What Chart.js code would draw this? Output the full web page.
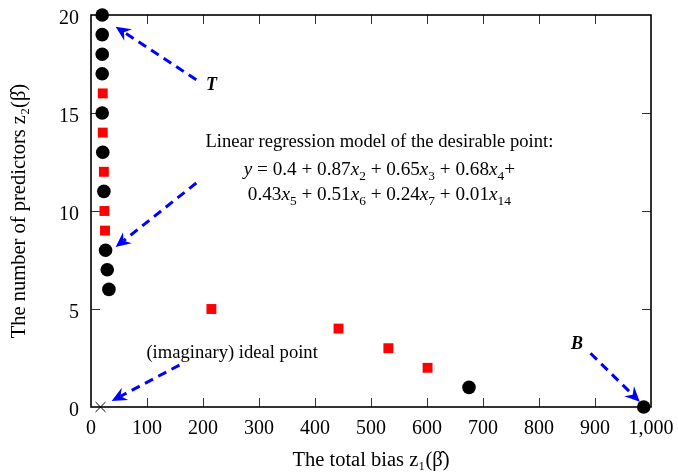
<!DOCTYPE html>
<html><head><meta charset="utf-8">
<script src="https://cdn.jsdelivr.net/npm/chart.js@4/dist/chart.umd.min.js"></script>
<style>html,body{margin:0;padding:0;background:#fff}#wrap{width:678px;height:476px}</style>
</head><body><div id="wrap"><canvas id="c" width="678" height="476"></canvas></div>
<script>
// ---- data ----
const blackX = [20, 20, 20, 20, 20, 21, 23, 26, 29, 32, 675, 987];
const blackY = [20, 19, 18, 17, 15, 13, 11, 8, 7, 6, 1, 0];
const redX = [21, 21, 23, 24, 25, 215, 442, 531, 601];
const redY = [16, 14, 12, 10, 9, 5, 4, 3, 2];
const idealX = [17];
const idealY = [0];
const xTickValues = [0, 100, 200, 300, 400, 500, 600, 700, 800, 900, 1000];
const yTickValues = [0, 5, 10, 15, 20];
const xTitle = 'The total bias z\u2081(\u03B2\u0302)';
const yTitle = 'The number of predictors z\u2082(\u03B2\u0302)';

// annotation arrows (data coords: from -> to)
const arrows = [
  {from: [188, 16.7], to: [44, 19.4]},
  {from: [188, 11.43], to: [44, 8.16]},
  {from: [158, 2.14], to: [37, 0.31]},
  {from: [892, 2.74], to: [980, 0.27]}
];
const labels = [
  {at: [215, 16.17], runs: [['T', 'bi']], size: 18},
  {at: [868, 2.96], runs: [['B', 'bi']], size: 18},
  {at: [252, 2.48], runs: [['(imaginary) ideal point', '']], size: 18.6},
  {at: [515, 13.27], runs: [['Linear regression model of the desirable point:', '']], size: 18.6},
  {at: [515, 11.84], runs: [['y','i'],[' = 0.4 + 0.87',''],['x','i'],['2','s'],[' + 0.65',''],['x','i'],['3','s'],[' + 0.68',''],['x','i'],['4','s'],['+','']], size: 19.2},
  {at: [515, 10.56], runs: [['0.43',''],['x','i'],['5','s'],[' + 0.51',''],['x','i'],['6','s'],[' + 0.24',''],['x','i'],['7','s'],[' + 0.01',''],['x','i'],['14','s']], size: 19.2}
];

const FF = '"Liberation Serif", "Times New Roman", serif';

function fontFor(style, size) {
  if (style === 's') return `${(size * 0.7).toFixed(1)}px ${FF}`;
  if (style === 'i') return `italic ${size}px ${FF}`;
  if (style === 'bi') return `italic bold ${size}px ${FF}`;
  return `${size}px ${FF}`;
}
function drawRuns(ctx, runs, cx, by, size) {
  let w = 0;
  runs.forEach(r => { ctx.font = fontFor(r[1], size); w += ctx.measureText(r[0]).width; });
  let x = cx - w / 2;
  ctx.textAlign = 'left'; ctx.textBaseline = 'alphabetic'; ctx.fillStyle = '#000';
  runs.forEach(r => {
    ctx.font = fontFor(r[1], size);
    const dy = r[1] === 's' ? size * 0.28 : 0;
    ctx.fillText(r[0], x, by + dy);
    x += ctx.measureText(r[0]).width;
  });
}
function drawArrow(ctx, x1, y1, x2, y2) {
  const ang = Math.atan2(y2 - y1, x2 - x1), c = Math.cos(ang), s = Math.sin(ang);
  const L = 15, W = 7, notch = 5;
  ctx.strokeStyle = '#0000ff'; ctx.fillStyle = '#0000ff';
  ctx.lineWidth = 3; ctx.setLineDash([9, 6]); ctx.lineCap = 'butt';
  ctx.beginPath(); ctx.moveTo(x1, y1); ctx.lineTo(x2 - (L - notch) * c, y2 - (L - notch) * s); ctx.stroke();
  ctx.setLineDash([]);
  const bx = x2 - L * c, by = y2 - L * s, px = -s, py = c;
  ctx.beginPath();
  ctx.moveTo(x2, y2);
  ctx.lineTo(bx + px * W, by + py * W);
  ctx.lineTo(x2 - (L - notch) * c, y2 - (L - notch) * s);
  ctx.lineTo(bx - px * W, by - py * W);
  ctx.closePath(); ctx.fill();
}

const annotPlugin = {
  id: 'annot',
  beforeDatasetsDraw(chart) {
    const {ctx, chartArea: a, scales: {x, y}} = chart;
    ctx.save();
    ctx.strokeStyle = '#333'; ctx.lineWidth = 1;
    x.ticks.forEach(t => {
      if (t.value <= x.min || t.value >= x.max) return;
      const px = Math.round(x.getPixelForValue(t.value)) + 0.5;
      ctx.beginPath(); ctx.moveTo(px, a.bottom); ctx.lineTo(px, a.bottom - 9);
      ctx.moveTo(px, a.top); ctx.lineTo(px, a.top + 9); ctx.stroke();
    });
    y.ticks.forEach(t => {
      if (t.value <= y.min || t.value >= y.max) return;
      const py = Math.round(y.getPixelForValue(t.value)) + 0.5;
      ctx.beginPath(); ctx.moveTo(a.left, py); ctx.lineTo(a.left + 9, py);
      ctx.moveTo(a.right, py); ctx.lineTo(a.right - 9, py); ctx.stroke();
    });
    ctx.strokeStyle = '#000'; ctx.lineWidth = 1.6;
    ctx.strokeRect(a.left, a.top, a.right - a.left, a.bottom - a.top);
    ctx.restore();
  },
  afterDatasetsDraw(chart) {
    const {ctx, scales: {x, y}} = chart;
    ctx.save();
    arrows.forEach(ar => drawArrow(ctx,
      x.getPixelForValue(ar.from[0]), y.getPixelForValue(ar.from[1]),
      x.getPixelForValue(ar.to[0]), y.getPixelForValue(ar.to[1])));
    labels.forEach(l => drawRuns(ctx, l.runs, x.getPixelForValue(l.at[0]), y.getPixelForValue(l.at[1]), l.size));
    ctx.restore();
  }
};

const toPts = (xs, ys) => xs.map((v, i) => ({x: v, y: ys[i]}));

new Chart(document.getElementById('c'), {
  type: 'scatter',
  data: {
    datasets: [
      {label: 'black', data: toPts(blackX, blackY), pointStyle: 'circle', pointRadius: 6.8, pointBackgroundColor: '#000', pointBorderWidth: 0, clip: false},
      {label: 'red', data: toPts(redX, redY), pointStyle: 'rect', pointRadius: 7, pointBackgroundColor: '#ff0000', pointBorderWidth: 0, clip: false},
      {label: 'ideal', data: toPts(idealX, idealY), pointStyle: 'crossRot', pointRadius: 7, pointBorderColor: '#000', pointBorderWidth: 1, clip: false}
    ]
  },
  options: {
    responsive: false, animation: false,
    layout: {padding: {left: 0, right: 27, top: 15, bottom: 0}},
    plugins: {legend: {display: false}, tooltip: {enabled: false}},
    scales: {
      x: {
        type: 'linear', min: 0, max: 1000,
        afterBuildTicks: s => { s.ticks = xTickValues.map(v => ({value: v})); },
        afterFit: s => { s.height = 69; s.paddingLeft = 0; s.paddingRight = 0; },
        grid: {display: false, drawTicks: false},
        border: {display: false},
        ticks: {color: '#000', padding: 10, maxRotation: 0, font: {family: FF, size: 20},
          callback: v => v.toLocaleString('en-US')},
        title: {display: true, text: xTitle, color: '#000', font: {family: FF, size: 20.5}, padding: {top: 0, bottom: 3}}
      },
      y: {
        type: 'linear', min: 0, max: 20,
        afterBuildTicks: s => { s.ticks = yTickValues.map(v => ({value: v})); },
        afterFit: s => { s.width = 91; s.paddingTop = 0; s.paddingBottom = 0; },
        grid: {display: false, drawTicks: false},
        border: {display: false},
        ticks: {color: '#000', padding: 12, labelOffset: 4, font: {family: FF, size: 20}},
        title: {display: true, text: yTitle, color: '#000', font: {family: FF, size: 20.5}, padding: {top: 7, bottom: 0}}
      }
    }
  },
  plugins: [annotPlugin]
});
</script>
</body></html>
